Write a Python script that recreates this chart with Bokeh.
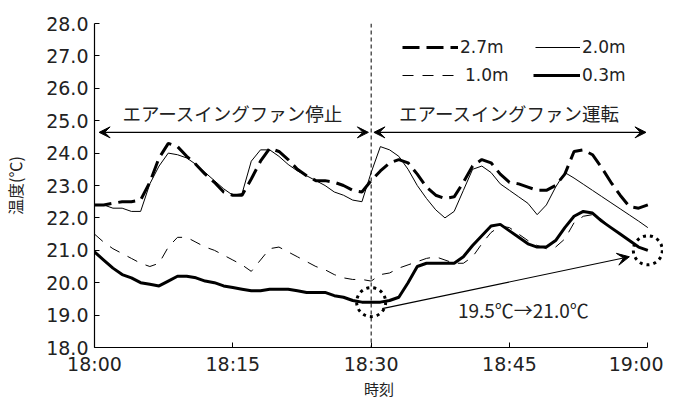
from bokeh.plotting import figure
from bokeh.models import (FixedTicker, Span, Arrow, VeeHead, Label, Legend,
                          LegendItem, PrintfTickFormatter, Range1d)
from bokeh.embed import file_html
from bokeh.resources import INLINE

# ---------------- data ----------------
minutes = list(range(61))  # minutes after 18:00

t_27m = [22.4, 22.4, 22.45, 22.5, 22.5, 22.55, 23.1, 23.85, 24.3, 24.2,
         23.9, 23.65, 23.35, 23.1, 22.8, 22.7, 22.7, 23.2, 23.75, 24.15,
         24.05, 23.8, 23.5, 23.3, 23.15, 23.15, 23.1, 23.0, 22.85, 22.8,
         23.15, 23.45, 23.7, 23.8, 23.7, 23.35, 22.95, 22.7, 22.6, 22.65,
         23.1, 23.6, 23.8, 23.7, 23.35, 23.1, 23.05, 22.95, 22.85, 22.85,
         23.0, 23.35, 24.05, 24.1, 23.95, 23.55, 23.1, 22.7, 22.35, 22.3,
         22.4]

t_20m = [22.4, 22.4, 22.3, 22.3, 22.2, 22.2, 23.05, 23.6, 24.0, 23.95,
         23.85, 23.65, 23.4, 23.15, 22.9, 22.7, 22.75, 23.75, 24.1, 24.1,
         23.9, 23.65, 23.45, 23.3, 23.15, 23.0, 22.8, 22.7, 22.55, 22.5,
         23.4, 24.2, 24.1, 23.9, 23.5, 23.0, 22.6, 22.25, 22.0, 22.2,
         22.85, 23.5, 23.6, 23.4, 23.05, 22.85, 22.65, 22.45, 22.1, 22.4,
         22.95, 23.4, 23.23, 23.04, 22.85, 22.66, 22.47, 22.28, 22.09, 21.9,
         21.7]

t_10m = [21.5, 21.25, 21.05, 20.9, 20.75, 20.6, 20.5, 20.6, 21.1, 21.4,
         21.4, 21.25, 21.1, 21.0, 20.85, 20.7, 20.55, 20.35, 20.7, 21.05,
         21.1, 20.95, 20.8, 20.65, 20.5, 20.4, 20.25, 20.15, 20.1, 20.1,
         20.05, 20.25, 20.3, 20.45, 20.55, 20.65, 20.75, 20.8, 20.7, 20.6,
         20.6, 20.8, 21.2, 21.55, 21.75, 21.7, 21.5, 21.3, 21.15, 21.05,
         21.1, 21.35, 21.85, 22.05, 22.1, 21.95, 21.7, 21.5, 21.3, 21.1,
         20.95]

t_03m = [20.95, 20.7, 20.45, 20.25, 20.15, 20.0, 19.95, 19.9, 20.05, 20.2,
         20.2, 20.15, 20.05, 20.0, 19.9, 19.85, 19.8, 19.75, 19.75, 19.8,
         19.8, 19.8, 19.75, 19.7, 19.7, 19.7, 19.6, 19.55, 19.45, 19.4,
         19.4, 19.4, 19.45, 19.55, 20.0, 20.5, 20.6, 20.6, 20.6, 20.6,
         20.8, 21.15, 21.45, 21.75, 21.8, 21.6, 21.4, 21.2, 21.1, 21.1,
         21.3, 21.7, 22.05, 22.2, 22.15, 21.9, 21.7, 21.5, 21.3, 21.1,
         21.0]

series_labels = ["2.7m", "2.0m", "1.0m", "0.3m"]
x_ticks = [0, 15, 30, 45, 60]
x_tick_labels = ["18:00", "18:15", "18:30", "18:45", "19:00"]
y_ticks = list(range(18, 29))
phase_labels = ["エアースイングファン停止", "エアースイングファン運転"]
change_label = "19.5℃→21.0℃"
switch_minute = 30
circle_idx = [30, 60]

JP = "Noto Sans CJK JP"
NUM = "DejaVu Sans"

# ---------------- figure ----------------
# the frame runs a little past 19:00 so the dotted circle there is not cut;
# the x axis line itself stops at 19:00 (bounds)
p = figure(frame_width=569, frame_height=324, output_backend="svg",
           toolbar_location=None,
           x_range=Range1d(0, 61.7), y_range=Range1d(18, 28),
           min_border_left=88, min_border_right=0, min_border_top=23,
           min_border_bottom=30)
p.outline_line_color = None
p.xgrid.visible = False
p.ygrid.visible = False
p.background_fill_color = "white"

for ax in (p.xaxis[0], p.yaxis[0]):
    ax.axis_line_color = "black"
    ax.axis_line_width = 1.2
    ax.major_tick_line_color = "black"
    ax.major_tick_in = 5
    ax.major_tick_out = 0
    ax.minor_tick_line_color = None
    ax.major_label_text_font = NUM
    ax.major_label_text_font_size = "19px"
    ax.major_label_text_color = "#222222"
    ax.axis_label_text_font = JP
    ax.axis_label_text_font_style = "normal"
    ax.axis_label_text_color = "#222222"

p.xaxis.ticker = FixedTicker(ticks=x_ticks)
p.xaxis.bounds = (x_ticks[0], x_ticks[-1])
p.xaxis.major_label_overrides = dict(zip(x_ticks, x_tick_labels))
p.xaxis.major_label_standoff = 5
p.xaxis.axis_label = "時刻"
p.xaxis.axis_label_text_font_size = "15px"
p.xaxis.axis_label_standoff = 0

p.yaxis.ticker = FixedTicker(ticks=y_ticks)
p.yaxis.formatter = PrintfTickFormatter(format="%.1f")
p.yaxis.major_label_standoff = 6
p.yaxis.axis_label = "温度(℃)"
p.yaxis.axis_label_text_font_size = "16px"
p.yaxis.axis_label_standoff = 16

# ---------------- series ----------------
r27 = p.line(minutes, t_27m, line_width=3, line_dash="17 7", color="black")
r20 = p.line(minutes, t_20m, line_width=1, color="black")
r10 = p.line(minutes, t_10m, line_width=1, line_dash="11 9", color="black")
r03 = p.line(minutes, t_03m, line_width=3, color="black")

# switch line at 18:30
p.add_layout(Span(location=switch_minute, dimension="height", line_color="black",
                  line_dash="4 3", line_width=1))

# phase arrows
arrow_y = 24.64
for xs, xe in ((0.5, 29.7), (30.3, 59.8)):
    p.add_layout(Arrow(start=VeeHead(size=11, fill_color="black", line_color="black", line_width=1),
                       end=VeeHead(size=11, fill_color="black", line_color="black", line_width=1),
                       x_start=xs, y_start=arrow_y, x_end=xe, y_end=arrow_y,
                       line_color="black", line_width=1.2))
for xc, txt in ((15, phase_labels[0]), (45, phase_labels[1])):
    p.add_layout(Label(x=xc, y=25.24, text=txt, text_align="center",
                       text_baseline="middle", text_font=JP,
                       text_font_size="18.5px", text_color="#222222"))

# dotted circles around the two highlighted 0.3m readings
p.scatter([minutes[i] for i in circle_idx], [t_03m[i] for i in circle_idx],
          marker="circle", size=29, fill_alpha=0, line_color="black",
          line_width=3, line_dash="3 4")

# rise annotation arrow and text
p.add_layout(Arrow(end=VeeHead(size=12, fill_color="black", line_color="black", line_width=1),
                   x_start=31.2, y_start=19.2, x_end=58.0, y_end=20.8,
                   line_color="black", line_width=1.2))
p.add_layout(Label(x=46.5, y=19.18, text=change_label, text_align="center",
                   text_baseline="middle", text_font=JP, text_font_size="19px",
                   text_color="#222222"))

# legend: one single-item legend per entry, laid out in two rows
common = dict(orientation="horizontal", glyph_height=20, label_height=20,
              padding=0, margin=0, border_line_alpha=0,
              background_fill_alpha=0, label_text_font=NUM,
              label_text_font_size="17px", label_text_color="#222222")
legend_specs = [
    (r27, series_labels[0], (308, 290), 56, 2),
    (r20, series_labels[1], (441, 290), 45, 2),
    (r10, series_labels[2], (308, 262), 56, 7),
    (r03, series_labels[3], (439, 262), 47, 2),
]
for rend, lab, loc, gw, so in legend_specs:
    p.add_layout(Legend(items=[LegendItem(label=lab, renderers=[rend])],
                        location=loc, glyph_width=gw, label_standoff=so,
                        **common))

open("out.html", "w").write(file_html(p, INLINE))
